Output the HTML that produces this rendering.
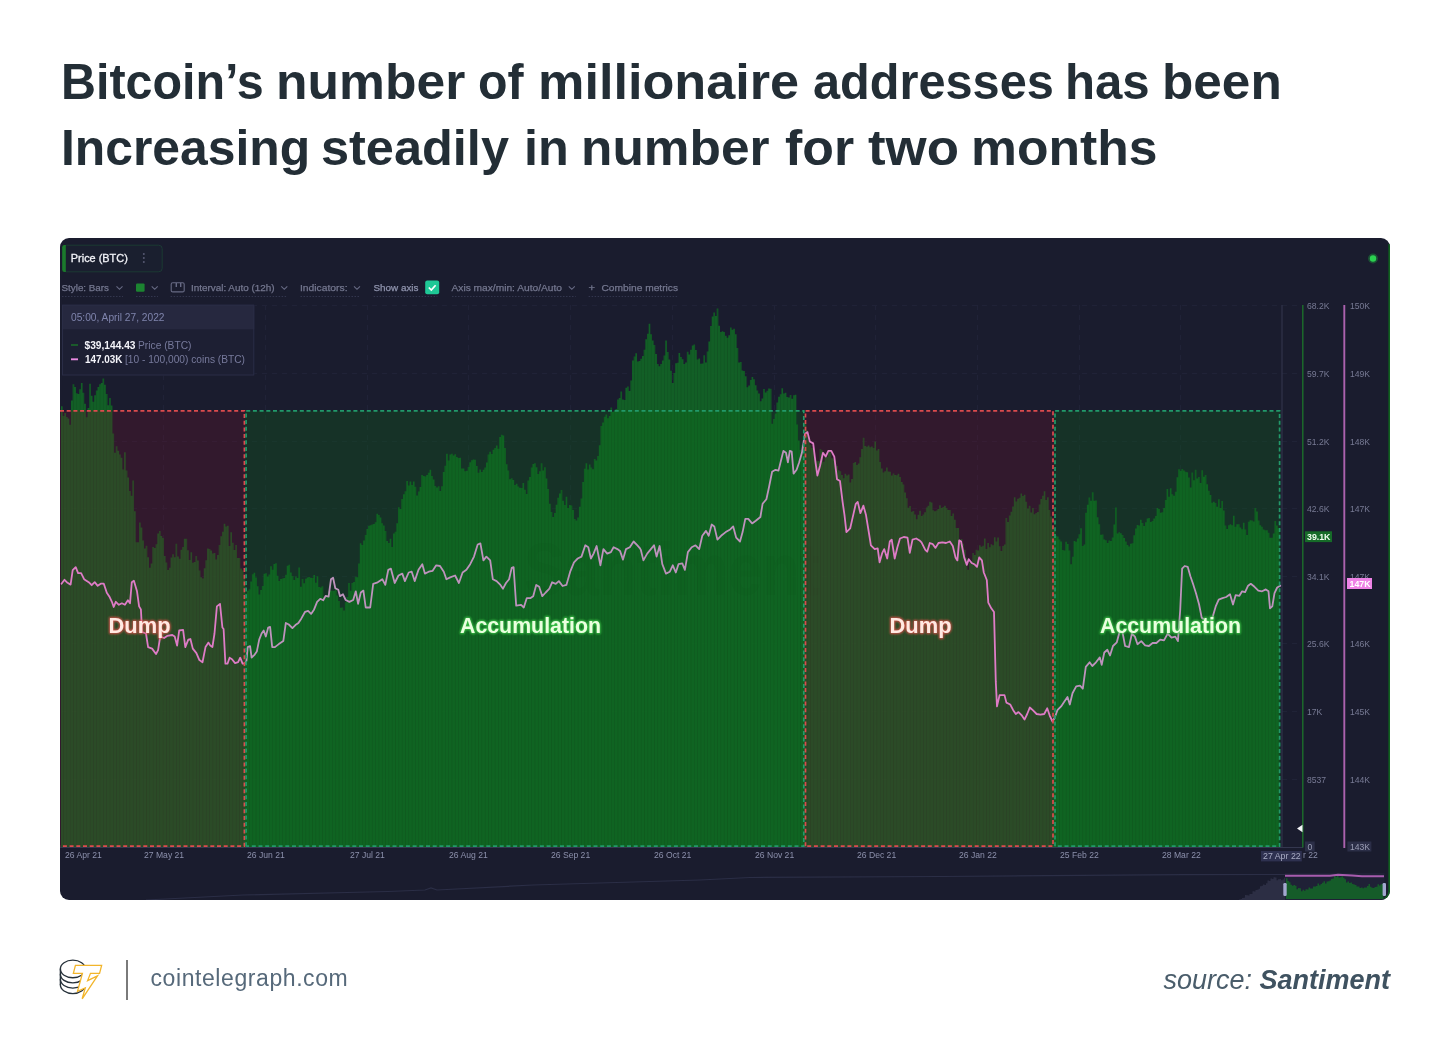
<!DOCTYPE html>
<html lang="en">
<head>
<meta charset="utf-8">
<title>Bitcoin millionaire addresses</title>
<style>
html,body{margin:0;padding:0;background:#fff;}
body{width:1450px;height:1060px;position:relative;overflow:hidden;font-family:"Liberation Sans",sans-serif;}
h1{position:absolute;left:0;top:0;margin:0;width:1450px;height:200px;font-family:"Liberation Sans",sans-serif;font-weight:700;font-size:49.6px;line-height:normal;color:#232e36;white-space:pre;}
.tw{position:absolute;display:block;transform-origin:0 0;white-space:pre;}
#chart{position:absolute;left:60px;top:238px;width:1330px;height:662px;border-radius:9px;background:#1a1c2e;overflow:hidden;}
#chart svg{position:absolute;left:-60px;top:-238px;filter:blur(0.7px);}
.foot-url{position:absolute;left:150.500px;top:964px;font-size:23px;line-height:28px;color:#56697a;letter-spacing:0.58px;white-space:nowrap;}
.sep{position:absolute;left:126px;top:960px;width:2px;height:40px;background:#7a7a7a;}
.src{position:absolute;right:60px;top:962px;font-size:27px;line-height:36px;color:#4a5d6b;font-style:italic;white-space:nowrap;}
.src b{font-weight:700;color:#3f5260;}
#logo{position:absolute;left:50px;top:950px;}
</style>
</head>
<body>
<h1><span class="tw" style="left:60.9px;top:53.4px;transform:scaleX(0.9762)">Bitcoin’s </span><span class="tw" style="left:275.5px;top:53.4px;transform:scaleX(1.0404)">number </span><span class="tw" style="left:478.4px;top:53.4px;transform:scaleX(0.9733)">of </span><span class="tw" style="left:538.2px;top:53.4px;transform:scaleX(1.0527)">millionaire </span><span class="tw" style="left:812.5px;top:53.4px;transform:scaleX(0.9813)">addresses </span><span class="tw" style="left:1065.3px;top:53.4px;transform:scaleX(0.9912)">has </span><span class="tw" style="left:1161.7px;top:53.4px;transform:scaleX(1.0345)">been</span><br><span class="tw" style="left:60.8px;top:118.5px;transform:scaleX(1.0045)">Increasing </span><span class="tw" style="left:321.4px;top:118.5px;transform:scaleX(1.0176)">steadily </span><span class="tw" style="left:523.9px;top:118.5px;transform:scaleX(1.0158)">in </span><span class="tw" style="left:580.7px;top:118.5px;transform:scaleX(1.0365)">number </span><span class="tw" style="left:784.5px;top:118.5px;transform:scaleX(1.0453)">for </span><span class="tw" style="left:867.9px;top:118.5px;transform:scaleX(1.0659)">two </span><span class="tw" style="left:971.0px;top:118.5px;transform:scaleX(1.0408)">months</span></h1>

<div id="chart">
<svg width="1450" height="1060" viewBox="0 0 1450 1060" font-family="Liberation Sans, sans-serif">
  <defs>
    <filter id="gRed" x="-30%" y="-50%" width="160%" height="200%"><feGaussianBlur stdDeviation="0.9"/></filter>
    <filter id="soft"><feGaussianBlur stdDeviation="0.45"/></filter>
    <pattern id="stripes" width="3.32" height="10" patternUnits="userSpaceOnUse"><rect x="0" y="0" width="0.8" height="10" fill="#0c1a14" opacity="0.16"/></pattern>
    <clipPath id="plotclip"><rect x="60" y="300" width="1221" height="547"/></clipPath>
    <clipPath id="barclip"><path d="M61.0 847.0V406.2h1.66V416.1h1.66V412.9h1.66V417.1h1.66V418.5h1.66V424.8h1.66V400.4h1.66V384.3h1.66V387.1h1.66V393.3h1.66V393.9h1.66V389.3h1.66V382.9h1.66V392.8h1.66V403.8h1.66V417.2h1.66V408.0h1.66V383.8h1.66V395.7h1.66V401.8h1.66V395.3h1.66V390.4h1.66V387.0h1.66V384.2h1.66V383.1h1.66V378.6h1.66V384.7h1.66V394.0h1.66V405.3h1.66V398.1h1.66V405.4h1.66V433.4h1.66V452.7h1.66V446.2h1.66V450.8h1.66V454.6h1.66V457.7h1.66V469.6h1.66V452.3h1.66V470.6h1.66V477.4h1.66V491.0h1.66V495.8h1.66V480.6h1.66V511.3h1.66V542.2h1.66V542.3h1.66V522.4h1.66V527.4h1.66V540.5h1.66V548.6h1.66V545.7h1.66V557.3h1.66V567.7h1.66V563.5h1.66V547.1h1.66V548.1h1.66V544.2h1.66V533.4h1.66V531.0h1.66V535.9h1.66V537.9h1.66V555.9h1.66V562.6h1.66V569.9h1.66V567.8h1.66V557.6h1.66V554.2h1.66V557.2h1.66V543.7h1.66V556.6h1.66V558.7h1.66V549.8h1.66V546.9h1.66V538.8h1.66V538.7h1.66V550.3h1.66V560.0h1.66V552.2h1.66V562.7h1.66V562.1h1.66V555.9h1.66V560.4h1.66V570.5h1.66V577.3h1.66V578.5h1.66V568.3h1.66V560.2h1.66V548.4h1.66V549.1h1.66V550.6h1.66V553.6h1.66V552.9h1.66V559.4h1.66V554.9h1.66V544.9h1.66V536.2h1.66V531.8h1.66V523.7h1.66V526.6h1.66V525.7h1.66V546.0h1.66V532.2h1.66V542.7h1.66V550.0h1.66V544.9h1.66V557.9h1.66V558.0h1.66V568.4h1.66V570.6h1.66V578.5h1.66V593.5h1.66V590.8h1.66V589.2h1.66V581.5h1.66V574.2h1.66V572.8h1.66V577.6h1.66V586.2h1.66V594.6h1.66V589.9h1.66V586.0h1.66V573.8h1.66V573.3h1.66V576.5h1.66V574.5h1.66V566.3h1.66V569.7h1.66V564.1h1.66V563.2h1.66V575.7h1.66V580.9h1.66V579.1h1.66V578.4h1.66V578.0h1.66V574.7h1.66V565.8h1.66V564.7h1.66V572.5h1.66V576.0h1.66V579.9h1.66V576.6h1.66V578.1h1.66V567.5h1.66V586.8h1.66V579.0h1.66V583.3h1.66V578.7h1.66V577.4h1.66V577.0h1.66V577.8h1.66V577.9h1.66V575.1h1.66V582.8h1.66V576.2h1.66V587.0h1.66V587.5h1.66V586.2h1.66V596.8h1.66V596.6h1.66V594.7h1.66V591.0h1.66V590.6h1.66V590.8h1.66V590.7h1.66V588.0h1.66V595.4h1.66V600.9h1.66V607.7h1.66V607.6h1.66V610.5h1.66V602.3h1.66V597.1h1.66V582.9h1.66V590.8h1.66V583.1h1.66V582.1h1.66V576.8h1.66V577.3h1.66V563.4h1.66V543.2h1.66V544.9h1.66V540.6h1.66V535.1h1.66V529.1h1.66V525.8h1.66V525.3h1.66V524.5h1.66V524.0h1.66V522.2h1.66V513.7h1.66V515.1h1.66V517.6h1.66V523.2h1.66V525.5h1.66V531.1h1.66V541.1h1.66V542.9h1.66V538.8h1.66V547.0h1.66V533.5h1.66V531.7h1.66V523.2h1.66V507.3h1.66V509.1h1.66V499.0h1.66V494.3h1.66V491.2h1.66V481.0h1.66V485.4h1.66V481.5h1.66V485.1h1.66V481.6h1.66V486.7h1.66V495.4h1.66V491.6h1.66V487.1h1.66V475.0h1.66V476.1h1.66V476.6h1.66V474.9h1.66V472.7h1.66V469.7h1.66V475.9h1.66V479.6h1.66V485.9h1.66V487.5h1.66V486.3h1.66V491.0h1.66V486.2h1.66V472.0h1.66V465.8h1.66V453.8h1.66V460.5h1.66V454.4h1.66V453.7h1.66V455.4h1.66V454.2h1.66V457.1h1.66V458.1h1.66V457.7h1.66V468.6h1.66V468.4h1.66V471.2h1.66V470.7h1.66V466.9h1.66V462.3h1.66V460.2h1.66V459.5h1.66V459.8h1.66V466.0h1.66V472.7h1.66V469.5h1.66V471.9h1.66V469.7h1.66V467.6h1.66V462.6h1.66V454.6h1.66V451.7h1.66V454.1h1.66V449.8h1.66V447.9h1.66V445.5h1.66V448.7h1.66V437.0h1.66V434.7h1.66V435.5h1.66V448.0h1.66V464.3h1.66V470.4h1.66V479.2h1.66V478.2h1.66V480.1h1.66V484.9h1.66V483.7h1.66V486.6h1.66V487.7h1.66V487.9h1.66V483.1h1.66V489.7h1.66V493.9h1.66V480.6h1.66V476.9h1.66V467.6h1.66V463.9h1.66V463.2h1.66V467.3h1.66V473.9h1.66V471.2h1.66V463.3h1.66V470.4h1.66V467.3h1.66V478.6h1.66V489.1h1.66V503.7h1.66V512.1h1.66V517.0h1.66V513.0h1.66V504.7h1.66V497.7h1.66V493.4h1.66V490.1h1.66V500.7h1.66V505.0h1.66V496.8h1.66V507.9h1.66V505.0h1.66V505.5h1.66V509.9h1.66V519.1h1.66V520.5h1.66V517.6h1.66V506.7h1.66V498.4h1.66V482.1h1.66V468.8h1.66V463.2h1.66V469.4h1.66V464.5h1.66V467.6h1.66V469.3h1.66V458.9h1.66V460.5h1.66V456.0h1.66V445.2h1.66V426.1h1.66V422.4h1.66V416.8h1.66V414.5h1.66V418.2h1.66V415.9h1.66V407.4h1.66V412.0h1.66V410.6h1.66V409.0h1.66V399.5h1.66V398.0h1.66V391.5h1.66V399.6h1.66V399.9h1.66V387.8h1.66V386.4h1.66V391.0h1.66V380.4h1.66V360.6h1.66V356.5h1.66V353.3h1.66V361.5h1.66V361.1h1.66V358.7h1.66V356.0h1.66V349.7h1.66V339.2h1.66V333.7h1.66V323.7h1.66V334.3h1.66V340.6h1.66V344.9h1.66V353.9h1.66V364.0h1.66V366.3h1.66V363.9h1.66V360.5h1.66V355.4h1.66V340.5h1.66V352.0h1.66V359.6h1.66V370.7h1.66V382.9h1.66V373.1h1.66V363.3h1.66V362.8h1.66V353.0h1.66V357.1h1.66V359.2h1.66V364.1h1.66V362.4h1.66V351.8h1.66V354.5h1.66V349.7h1.66V345.5h1.66V344.4h1.66V350.1h1.66V359.4h1.66V358.6h1.66V363.8h1.66V363.5h1.66V355.3h1.66V362.4h1.66V351.4h1.66V341.6h1.66V325.9h1.66V316.4h1.66V312.6h1.66V315.9h1.66V308.6h1.66V325.7h1.66V332.1h1.66V331.3h1.66V332.0h1.66V335.8h1.66V337.7h1.66V335.2h1.66V327.5h1.66V329.8h1.66V328.7h1.66V334.3h1.66V348.0h1.66V362.6h1.66V362.0h1.66V370.6h1.66V371.0h1.66V376.3h1.66V387.2h1.66V385.4h1.66V379.9h1.66V377.0h1.66V379.3h1.66V385.3h1.66V390.5h1.66V393.5h1.66V401.3h1.66V398.6h1.66V389.1h1.66V392.4h1.66V390.7h1.66V388.4h1.66V388.8h1.66V423.7h1.66V419.0h1.66V413.4h1.66V402.4h1.66V396.8h1.66V394.3h1.66V388.3h1.66V393.4h1.66V392.8h1.66V397.1h1.66V397.6h1.66V395.0h1.66V398.8h1.66V395.2h1.66V394.7h1.66V424.5h1.66V440.4h1.66V450.0h1.66V444.9h1.66V438.0h1.66V423.4h1.66V430.3h1.66V440.7h1.66V444.9h1.66V448.1h1.66V450.8h1.66V457.7h1.66V461.3h1.66V461.0h1.66V448.9h1.66V450.4h1.66V461.7h1.66V456.3h1.66V457.1h1.66V450.5h1.66V451.6h1.66V458.2h1.66V459.5h1.66V460.6h1.66V466.1h1.66V470.3h1.66V471.3h1.66V475.1h1.66V478.2h1.66V473.8h1.66V475.4h1.66V474.6h1.66V482.5h1.66V479.1h1.66V463.1h1.66V462.1h1.66V464.9h1.66V463.5h1.66V457.2h1.66V449.1h1.66V437.7h1.66V446.0h1.66V446.8h1.66V445.4h1.66V447.3h1.66V446.4h1.66V448.1h1.66V441.6h1.66V450.5h1.66V449.0h1.66V462.0h1.66V468.4h1.66V472.6h1.66V471.2h1.66V467.5h1.66V471.5h1.66V471.7h1.66V475.4h1.66V473.4h1.66V475.1h1.66V475.3h1.66V473.8h1.66V477.1h1.66V481.9h1.66V484.5h1.66V492.6h1.66V498.3h1.66V507.7h1.66V506.1h1.66V511.8h1.66V511.1h1.66V514.4h1.66V519.2h1.66V514.7h1.66V510.7h1.66V516.1h1.66V514.4h1.66V512.3h1.66V507.5h1.66V505.8h1.66V501.8h1.66V502.6h1.66V510.2h1.66V511.2h1.66V510.5h1.66V509.0h1.66V505.2h1.66V508.1h1.66V507.1h1.66V505.8h1.66V507.9h1.66V509.9h1.66V509.9h1.66V516.1h1.66V513.6h1.66V519.7h1.66V528.1h1.66V527.9h1.66V540.7h1.66V539.1h1.66V543.7h1.66V549.8h1.66V557.7h1.66V569.8h1.66V562.6h1.66V560.9h1.66V552.9h1.66V555.1h1.66V549.7h1.66V550.6h1.66V545.3h1.66V546.7h1.66V545.7h1.66V538.4h1.66V549.1h1.66V543.0h1.66V547.3h1.66V544.3h1.66V545.3h1.66V537.2h1.66V541.6h1.66V537.4h1.66V546.2h1.66V551.1h1.66V546.1h1.66V544.5h1.66V518.1h1.66V521.9h1.66V515.4h1.66V511.8h1.66V506.5h1.66V497.3h1.66V501.4h1.66V498.8h1.66V497.7h1.66V493.5h1.66V495.9h1.66V494.7h1.66V501.8h1.66V508.4h1.66V505.7h1.66V512.4h1.66V507.9h1.66V514.3h1.66V512.9h1.66V511.9h1.66V504.5h1.66V499.1h1.66V495.8h1.66V491.2h1.66V499.9h1.66V497.3h1.66V510.0h1.66V516.4h1.66V526.0h1.66V531.1h1.66V535.7h1.66V536.6h1.66V539.6h1.66V541.6h1.66V550.1h1.66V550.5h1.66V541.8h1.66V544.0h1.66V550.5h1.66V564.2h1.66V556.7h1.66V540.9h1.66V541.8h1.66V538.6h1.66V534.2h1.66V528.2h1.66V546.1h1.66V544.4h1.66V512.8h1.66V504.7h1.66V497.6h1.66V500.8h1.66V492.3h1.66V500.8h1.66V500.6h1.66V517.2h1.66V524.2h1.66V534.8h1.66V534.6h1.66V539.4h1.66V540.3h1.66V542.9h1.66V540.6h1.66V540.9h1.66V537.6h1.66V524.5h1.66V507.5h1.66V533.5h1.66V532.3h1.66V533.3h1.66V535.1h1.66V537.9h1.66V541.5h1.66V544.9h1.66V546.4h1.66V543.8h1.66V543.2h1.66V535.3h1.66V528.5h1.66V525.1h1.66V525.6h1.66V519.7h1.66V523.0h1.66V526.1h1.66V522.2h1.66V518.4h1.66V518.1h1.66V521.9h1.66V520.9h1.66V518.4h1.66V516.0h1.66V508.1h1.66V509.1h1.66V512.8h1.66V512.3h1.66V508.0h1.66V500.0h1.66V489.0h1.66V496.8h1.66V488.3h1.66V494.2h1.66V495.8h1.66V491.7h1.66V477.3h1.66V469.2h1.66V470.7h1.66V469.1h1.66V470.6h1.66V471.8h1.66V472.2h1.66V477.6h1.66V487.5h1.66V472.5h1.66V480.2h1.66V469.8h1.66V478.6h1.66V477.1h1.66V482.9h1.66V470.3h1.66V476.7h1.66V475.0h1.66V484.3h1.66V490.7h1.66V495.1h1.66V502.8h1.66V501.7h1.66V502.9h1.66V506.8h1.66V499.2h1.66V508.1h1.66V500.9h1.66V510.4h1.66V525.4h1.66V529.1h1.66V525.2h1.66V524.2h1.66V525.3h1.66V515.7h1.66V526.8h1.66V524.2h1.66V524.3h1.66V527.5h1.66V529.2h1.66V522.7h1.66V529.4h1.66V535.1h1.66V521.8h1.66V520.3h1.66V520.4h1.66V521.6h1.66V508.0h1.66V511.6h1.66V520.5h1.66V525.2h1.66V526.8h1.66V529.5h1.66V530.2h1.66V530.2h1.66V532.7h1.66V537.8h1.66V537.7h1.66V533.4h1.66V521.1h1.66V525.4h1.66V528.3h1.66V847.0Z"/></clipPath>
  </defs>

  <!-- grid -->
  <g stroke="#262940" stroke-width="1" stroke-dasharray="5 5" fill="none" opacity="0.5">
    <path d="M62 305.5H1300M62 373.500H1300M62 441.500H1300M62 508.500H1300M62 576.500H1300M62 643.500H1300M62 711.500H1300M62 779.500H1300"/>
    <path d="M163.500 305V847M265.500 305V847M367.500 305V847M468.500 305V847M570.500 305V847M672.500 305V847M774.500 305V847M875.500 305V847M977.500 305V847M1079.500 305V847M1180.500 305V847"/>
  </g>

  <!-- bars -->
  <g clip-path="url(#plotclip)">
    <path d="M61.0 847.0V406.2h1.66V416.1h1.66V412.9h1.66V417.1h1.66V418.5h1.66V424.8h1.66V400.4h1.66V384.3h1.66V387.1h1.66V393.3h1.66V393.9h1.66V389.3h1.66V382.9h1.66V392.8h1.66V403.8h1.66V417.2h1.66V408.0h1.66V383.8h1.66V395.7h1.66V401.8h1.66V395.3h1.66V390.4h1.66V387.0h1.66V384.2h1.66V383.1h1.66V378.6h1.66V384.7h1.66V394.0h1.66V405.3h1.66V398.1h1.66V405.4h1.66V433.4h1.66V452.7h1.66V446.2h1.66V450.8h1.66V454.6h1.66V457.7h1.66V469.6h1.66V452.3h1.66V470.6h1.66V477.4h1.66V491.0h1.66V495.8h1.66V480.6h1.66V511.3h1.66V542.2h1.66V542.3h1.66V522.4h1.66V527.4h1.66V540.5h1.66V548.6h1.66V545.7h1.66V557.3h1.66V567.7h1.66V563.5h1.66V547.1h1.66V548.1h1.66V544.2h1.66V533.4h1.66V531.0h1.66V535.9h1.66V537.9h1.66V555.9h1.66V562.6h1.66V569.9h1.66V567.8h1.66V557.6h1.66V554.2h1.66V557.2h1.66V543.7h1.66V556.6h1.66V558.7h1.66V549.8h1.66V546.9h1.66V538.8h1.66V538.7h1.66V550.3h1.66V560.0h1.66V552.2h1.66V562.7h1.66V562.1h1.66V555.9h1.66V560.4h1.66V570.5h1.66V577.3h1.66V578.5h1.66V568.3h1.66V560.2h1.66V548.4h1.66V549.1h1.66V550.6h1.66V553.6h1.66V552.9h1.66V559.4h1.66V554.9h1.66V544.9h1.66V536.2h1.66V531.8h1.66V523.7h1.66V526.6h1.66V525.7h1.66V546.0h1.66V532.2h1.66V542.7h1.66V550.0h1.66V544.9h1.66V557.9h1.66V558.0h1.66V568.4h1.66V570.6h1.66V578.5h1.66V593.5h1.66V590.8h1.66V589.2h1.66V581.5h1.66V574.2h1.66V572.8h1.66V577.6h1.66V586.2h1.66V594.6h1.66V589.9h1.66V586.0h1.66V573.8h1.66V573.3h1.66V576.5h1.66V574.5h1.66V566.3h1.66V569.7h1.66V564.1h1.66V563.2h1.66V575.7h1.66V580.9h1.66V579.1h1.66V578.4h1.66V578.0h1.66V574.7h1.66V565.8h1.66V564.7h1.66V572.5h1.66V576.0h1.66V579.9h1.66V576.6h1.66V578.1h1.66V567.5h1.66V586.8h1.66V579.0h1.66V583.3h1.66V578.7h1.66V577.4h1.66V577.0h1.66V577.8h1.66V577.9h1.66V575.1h1.66V582.8h1.66V576.2h1.66V587.0h1.66V587.5h1.66V586.2h1.66V596.8h1.66V596.6h1.66V594.7h1.66V591.0h1.66V590.6h1.66V590.8h1.66V590.7h1.66V588.0h1.66V595.4h1.66V600.9h1.66V607.7h1.66V607.6h1.66V610.5h1.66V602.3h1.66V597.1h1.66V582.9h1.66V590.8h1.66V583.1h1.66V582.1h1.66V576.8h1.66V577.3h1.66V563.4h1.66V543.2h1.66V544.9h1.66V540.6h1.66V535.1h1.66V529.1h1.66V525.8h1.66V525.3h1.66V524.5h1.66V524.0h1.66V522.2h1.66V513.7h1.66V515.1h1.66V517.6h1.66V523.2h1.66V525.5h1.66V531.1h1.66V541.1h1.66V542.9h1.66V538.8h1.66V547.0h1.66V533.5h1.66V531.7h1.66V523.2h1.66V507.3h1.66V509.1h1.66V499.0h1.66V494.3h1.66V491.2h1.66V481.0h1.66V485.4h1.66V481.5h1.66V485.1h1.66V481.6h1.66V486.7h1.66V495.4h1.66V491.6h1.66V487.1h1.66V475.0h1.66V476.1h1.66V476.6h1.66V474.9h1.66V472.7h1.66V469.7h1.66V475.9h1.66V479.6h1.66V485.9h1.66V487.5h1.66V486.3h1.66V491.0h1.66V486.2h1.66V472.0h1.66V465.8h1.66V453.8h1.66V460.5h1.66V454.4h1.66V453.7h1.66V455.4h1.66V454.2h1.66V457.1h1.66V458.1h1.66V457.7h1.66V468.6h1.66V468.4h1.66V471.2h1.66V470.7h1.66V466.9h1.66V462.3h1.66V460.2h1.66V459.5h1.66V459.8h1.66V466.0h1.66V472.7h1.66V469.5h1.66V471.9h1.66V469.7h1.66V467.6h1.66V462.6h1.66V454.6h1.66V451.7h1.66V454.1h1.66V449.8h1.66V447.9h1.66V445.5h1.66V448.7h1.66V437.0h1.66V434.7h1.66V435.5h1.66V448.0h1.66V464.3h1.66V470.4h1.66V479.2h1.66V478.2h1.66V480.1h1.66V484.9h1.66V483.7h1.66V486.6h1.66V487.7h1.66V487.9h1.66V483.1h1.66V489.7h1.66V493.9h1.66V480.6h1.66V476.9h1.66V467.6h1.66V463.9h1.66V463.2h1.66V467.3h1.66V473.9h1.66V471.2h1.66V463.3h1.66V470.4h1.66V467.3h1.66V478.6h1.66V489.1h1.66V503.7h1.66V512.1h1.66V517.0h1.66V513.0h1.66V504.7h1.66V497.7h1.66V493.4h1.66V490.1h1.66V500.7h1.66V505.0h1.66V496.8h1.66V507.9h1.66V505.0h1.66V505.5h1.66V509.9h1.66V519.1h1.66V520.5h1.66V517.6h1.66V506.7h1.66V498.4h1.66V482.1h1.66V468.8h1.66V463.2h1.66V469.4h1.66V464.5h1.66V467.6h1.66V469.3h1.66V458.9h1.66V460.5h1.66V456.0h1.66V445.2h1.66V426.1h1.66V422.4h1.66V416.8h1.66V414.5h1.66V418.2h1.66V415.9h1.66V407.4h1.66V412.0h1.66V410.6h1.66V409.0h1.66V399.5h1.66V398.0h1.66V391.5h1.66V399.6h1.66V399.9h1.66V387.8h1.66V386.4h1.66V391.0h1.66V380.4h1.66V360.6h1.66V356.5h1.66V353.3h1.66V361.5h1.66V361.1h1.66V358.7h1.66V356.0h1.66V349.7h1.66V339.2h1.66V333.7h1.66V323.7h1.66V334.3h1.66V340.6h1.66V344.9h1.66V353.9h1.66V364.0h1.66V366.3h1.66V363.9h1.66V360.5h1.66V355.4h1.66V340.5h1.66V352.0h1.66V359.6h1.66V370.7h1.66V382.9h1.66V373.1h1.66V363.3h1.66V362.8h1.66V353.0h1.66V357.1h1.66V359.2h1.66V364.1h1.66V362.4h1.66V351.8h1.66V354.5h1.66V349.7h1.66V345.5h1.66V344.4h1.66V350.1h1.66V359.4h1.66V358.6h1.66V363.8h1.66V363.5h1.66V355.3h1.66V362.4h1.66V351.4h1.66V341.6h1.66V325.9h1.66V316.4h1.66V312.6h1.66V315.9h1.66V308.6h1.66V325.7h1.66V332.1h1.66V331.3h1.66V332.0h1.66V335.8h1.66V337.7h1.66V335.2h1.66V327.5h1.66V329.8h1.66V328.7h1.66V334.3h1.66V348.0h1.66V362.6h1.66V362.0h1.66V370.6h1.66V371.0h1.66V376.3h1.66V387.2h1.66V385.4h1.66V379.9h1.66V377.0h1.66V379.3h1.66V385.3h1.66V390.5h1.66V393.5h1.66V401.3h1.66V398.6h1.66V389.1h1.66V392.4h1.66V390.7h1.66V388.4h1.66V388.8h1.66V423.7h1.66V419.0h1.66V413.4h1.66V402.4h1.66V396.8h1.66V394.3h1.66V388.3h1.66V393.4h1.66V392.8h1.66V397.1h1.66V397.6h1.66V395.0h1.66V398.8h1.66V395.2h1.66V394.7h1.66V424.5h1.66V440.4h1.66V450.0h1.66V444.9h1.66V438.0h1.66V423.4h1.66V430.3h1.66V440.7h1.66V444.9h1.66V448.1h1.66V450.8h1.66V457.7h1.66V461.3h1.66V461.0h1.66V448.9h1.66V450.4h1.66V461.7h1.66V456.3h1.66V457.1h1.66V450.5h1.66V451.6h1.66V458.2h1.66V459.5h1.66V460.6h1.66V466.1h1.66V470.3h1.66V471.3h1.66V475.1h1.66V478.2h1.66V473.8h1.66V475.4h1.66V474.6h1.66V482.5h1.66V479.1h1.66V463.1h1.66V462.1h1.66V464.9h1.66V463.5h1.66V457.2h1.66V449.1h1.66V437.7h1.66V446.0h1.66V446.8h1.66V445.4h1.66V447.3h1.66V446.4h1.66V448.1h1.66V441.6h1.66V450.5h1.66V449.0h1.66V462.0h1.66V468.4h1.66V472.6h1.66V471.2h1.66V467.5h1.66V471.5h1.66V471.7h1.66V475.4h1.66V473.4h1.66V475.1h1.66V475.3h1.66V473.8h1.66V477.1h1.66V481.9h1.66V484.5h1.66V492.6h1.66V498.3h1.66V507.7h1.66V506.1h1.66V511.8h1.66V511.1h1.66V514.4h1.66V519.2h1.66V514.7h1.66V510.7h1.66V516.1h1.66V514.4h1.66V512.3h1.66V507.5h1.66V505.8h1.66V501.8h1.66V502.6h1.66V510.2h1.66V511.2h1.66V510.5h1.66V509.0h1.66V505.2h1.66V508.1h1.66V507.1h1.66V505.8h1.66V507.9h1.66V509.9h1.66V509.9h1.66V516.1h1.66V513.6h1.66V519.7h1.66V528.1h1.66V527.9h1.66V540.7h1.66V539.1h1.66V543.7h1.66V549.8h1.66V557.7h1.66V569.8h1.66V562.6h1.66V560.9h1.66V552.9h1.66V555.1h1.66V549.7h1.66V550.6h1.66V545.3h1.66V546.7h1.66V545.7h1.66V538.4h1.66V549.1h1.66V543.0h1.66V547.3h1.66V544.3h1.66V545.3h1.66V537.2h1.66V541.6h1.66V537.4h1.66V546.2h1.66V551.1h1.66V546.1h1.66V544.5h1.66V518.1h1.66V521.9h1.66V515.4h1.66V511.8h1.66V506.5h1.66V497.3h1.66V501.4h1.66V498.8h1.66V497.7h1.66V493.5h1.66V495.9h1.66V494.7h1.66V501.8h1.66V508.4h1.66V505.7h1.66V512.4h1.66V507.9h1.66V514.3h1.66V512.9h1.66V511.9h1.66V504.5h1.66V499.1h1.66V495.8h1.66V491.2h1.66V499.9h1.66V497.3h1.66V510.0h1.66V516.4h1.66V526.0h1.66V531.1h1.66V535.7h1.66V536.6h1.66V539.6h1.66V541.6h1.66V550.1h1.66V550.5h1.66V541.8h1.66V544.0h1.66V550.5h1.66V564.2h1.66V556.7h1.66V540.9h1.66V541.8h1.66V538.6h1.66V534.2h1.66V528.2h1.66V546.1h1.66V544.4h1.66V512.8h1.66V504.7h1.66V497.6h1.66V500.8h1.66V492.3h1.66V500.8h1.66V500.6h1.66V517.2h1.66V524.2h1.66V534.8h1.66V534.6h1.66V539.4h1.66V540.3h1.66V542.9h1.66V540.6h1.66V540.9h1.66V537.6h1.66V524.5h1.66V507.5h1.66V533.5h1.66V532.3h1.66V533.3h1.66V535.1h1.66V537.9h1.66V541.5h1.66V544.9h1.66V546.4h1.66V543.8h1.66V543.2h1.66V535.3h1.66V528.5h1.66V525.1h1.66V525.6h1.66V519.7h1.66V523.0h1.66V526.1h1.66V522.2h1.66V518.4h1.66V518.1h1.66V521.9h1.66V520.9h1.66V518.4h1.66V516.0h1.66V508.1h1.66V509.1h1.66V512.8h1.66V512.3h1.66V508.0h1.66V500.0h1.66V489.0h1.66V496.8h1.66V488.3h1.66V494.2h1.66V495.8h1.66V491.7h1.66V477.3h1.66V469.2h1.66V470.7h1.66V469.1h1.66V470.6h1.66V471.8h1.66V472.2h1.66V477.6h1.66V487.5h1.66V472.5h1.66V480.2h1.66V469.8h1.66V478.6h1.66V477.1h1.66V482.9h1.66V470.3h1.66V476.7h1.66V475.0h1.66V484.3h1.66V490.7h1.66V495.1h1.66V502.8h1.66V501.7h1.66V502.9h1.66V506.8h1.66V499.2h1.66V508.1h1.66V500.9h1.66V510.4h1.66V525.4h1.66V529.1h1.66V525.2h1.66V524.2h1.66V525.3h1.66V515.7h1.66V526.8h1.66V524.2h1.66V524.3h1.66V527.5h1.66V529.2h1.66V522.7h1.66V529.4h1.66V535.1h1.66V521.8h1.66V520.3h1.66V520.4h1.66V521.6h1.66V508.0h1.66V511.6h1.66V520.5h1.66V525.2h1.66V526.8h1.66V529.5h1.66V530.2h1.66V530.2h1.66V532.7h1.66V537.8h1.66V537.7h1.66V533.4h1.66V521.1h1.66V525.4h1.66V528.3h1.66V847.0Z" fill="#107024" fill-opacity="0.8"/>
    <rect x="62" y="300" width="1220" height="547" fill="url(#stripes)" clip-path="url(#barclip)"/>
  </g>

  <!-- purple line -->
  <path d="M61.5 583.7 L64.5 579.8 L67.5 582.8 L70.6 584.6 L72.7 570.1 L75.7 567.1 L78.1 573.2 L81.1 573.2 L84.1 579.2 L88.7 582.2 L91.7 585.2 L94.7 582.2 L97.7 585.8 L100.7 583.7 L103.8 583.7 L106.8 592.8 L109.8 597.3 L111.9 601.8 L113.7 607.0 L115.8 601.8 L118.9 604.8 L121.9 603.3 L124.9 604.8 L127.9 600.3 L130.0 603.3 L131.8 582.2 L133.9 580.7 L137.0 591.3 L139.1 606.4 L140.9 609.4 L142.1 632.0 L146.0 633.5 L148.1 647.1 L152.1 648.6 L156.0 654.0 L158.1 650.1 L160.2 636.5 L164.1 638.0 L167.1 635.9 L172.3 635.0 L174.7 636.5 L177.1 645.6 L179.2 630.5 L183.1 629.9 L185.3 647.1 L188.3 639.6 L190.4 639.0 L192.8 648.6 L196.4 653.1 L199.4 660.1 L202.5 662.2 L205.5 647.1 L208.5 642.6 L210.3 645.6 L212.4 647.1 L214.5 633.5 L216.9 606.4 L220.0 603.9 L222.4 627.5 L223.6 629.0 L225.4 663.7 L227.5 663.7 L229.6 657.7 L232.0 659.2 L235.1 663.1 L238.1 662.2 L240.2 657.7 L242.6 663.7 L244.7 663.7 L246.5 660.7 L247.7 647.1 L250.1 646.2 L251.6 657.7 L254.7 654.6 L256.8 651.6 L259.2 639.6 L261.6 633.5 L263.7 630.5 L265.8 636.5 L268.2 627.5 L270.1 626.9 L272.2 647.1 L274.9 647.1 L278.8 644.1 L283.3 641.1 L285.8 623.0 L288.8 624.5 L292.4 628.1 L295.4 625.1 L298.4 623.0 L301.4 618.4 L305.1 611.8 L308.1 610.9 L311.1 613.9 L314.1 609.4 L317.1 601.8 L320.2 598.8 L323.2 600.3 L325.6 595.8 L328.6 596.7 L331.0 579.2 L333.1 577.7 L335.3 588.2 L338.3 589.8 L340.0 596.2 L343.0 594.3 L345.7 600.0 L349.4 601.9 L353.2 600.0 L355.8 591.3 L358.1 603.8 L360.8 592.5 L363.4 590.6 L365.7 607.5 L370.2 607.5 L373.2 583.8 L377.7 582.3 L382.3 579.2 L385.3 584.9 L388.3 569.8 L390.9 568.7 L394.7 583.0 L398.5 575.5 L402.3 573.6 L404.9 581.1 L408.7 572.5 L411.7 571.7 L414.7 581.1 L418.5 569.8 L422.3 564.2 L424.9 573.6 L428.7 571.7 L432.5 570.9 L436.2 565.3 L440.0 566.0 L443.8 571.7 L446.4 579.2 L450.2 577.4 L455.1 575.5 L458.9 583.0 L462.6 572.5 L466.4 569.8 L470.2 564.2 L474.0 556.6 L477.7 544.5 L480.4 543.4 L483.4 560.4 L486.4 556.6 L490.2 560.4 L492.8 579.2 L496.6 581.1 L500.4 584.9 L503.0 588.7 L506.0 583.0 L509.1 579.2 L511.7 567.9 L513.6 567.2 L516.2 605.7 L521.1 604.9 L523.8 607.5 L526.8 598.1 L530.6 598.1 L533.2 596.2 L536.2 584.9 L539.2 586.8 L542.3 596.2 L545.7 592.5 L549.4 588.7 L552.1 582.3 L555.8 583.8 L558.9 581.1 L562.6 586.0 L566.4 584.9 L570.2 571.7 L574.0 562.3 L577.7 558.5 L581.5 556.6 L585.3 545.3 L588.3 547.2 L590.9 558.5 L593.6 553.6 L596.6 546.0 L600.4 565.3 L603.4 549.1 L607.2 553.6 L610.9 552.1 L613.6 547.2 L617.4 549.1 L620.0 550.9 L623.0 559.6 L626.0 549.1 L629.8 547.2 L633.6 541.5 L637.4 545.3 L640.0 548.3 L640.8 549.8 L643.4 560.4 L647.2 553.6 L650.9 549.1 L654.0 545.3 L656.6 556.6 L659.6 546.0 L662.3 564.2 L666.0 573.6 L669.8 571.7 L672.8 565.3 L675.8 572.5 L678.5 564.2 L682.3 563.4 L684.9 569.8 L687.9 552.1 L691.7 547.2 L695.5 545.3 L699.2 549.1 L702.3 535.8 L706.0 530.9 L708.7 535.8 L711.7 524.5 L714.3 526.4 L717.4 539.6 L721.1 535.8 L725.7 532.1 L730.2 529.4 L733.2 526.4 L736.2 537.7 L740.0 541.5 L742.6 532.1 L745.3 518.9 L748.3 518.9 L752.1 523.4 L755.8 520.8 L760.4 517.0 L762.6 503.8 L766.4 499.2 L769.1 486.8 L772.1 471.7 L775.5 469.8 L778.5 470.6 L781.5 458.5 L783.4 450.9 L786.0 452.8 L787.9 462.3 L789.8 450.9 L791.7 451.7 L793.6 473.6 L796.6 469.8 L799.2 462.3 L801.9 452.8 L804.9 434.0 L807.5 432.1 L809.8 441.5 L813.2 443.4 L815.5 462.3 L817.4 475.5 L820.0 466.0 L823.0 452.8 L825.7 456.6 L828.3 450.9 L831.3 450.9 L834.3 456.6 L837.0 479.2 L840.0 481.1 L842.6 501.9 L844.5 515.1 L846.4 532.1 L850.2 528.3 L853.2 515.1 L855.8 503.8 L857.7 501.9 L860.4 513.2 L863.4 505.7 L866.0 515.1 L869.1 534.0 L870.9 545.3 L874.7 549.1 L877.7 548.3 L879.6 562.3 L882.3 552.8 L884.2 549.1 L887.2 558.5 L889.8 541.5 L891.7 539.6 L894.7 558.5 L897.4 547.2 L900.0 538.5 L903.8 537.0 L907.5 537.7 L909.8 552.8 L912.5 539.6 L916.2 538.5 L920.0 540.8 L921.5 542.3 L925.3 549.8 L927.2 551.7 L929.8 543.0 L932.8 544.2 L935.5 547.9 L938.5 543.0 L942.3 542.3 L946.0 543.0 L949.8 541.5 L952.8 546.0 L955.5 557.4 L957.4 560.4 L959.2 540.4 L961.1 541.5 L964.2 557.4 L966.8 564.9 L968.7 559.2 L971.7 563.0 L974.3 564.2 L977.0 566.8 L979.2 557.4 L981.9 560.4 L983.8 572.5 L986.8 580.0 L988.3 602.6 L991.3 608.3 L994.0 612.1 L995.8 681.9 L997.0 706.4 L999.6 695.1 L1004.5 695.1 L1006.4 702.6 L1010.2 704.5 L1013.2 710.2 L1015.8 714.0 L1018.5 712.1 L1021.5 715.1 L1024.5 719.6 L1027.2 714.0 L1029.8 707.5 L1032.8 710.2 L1036.6 714.0 L1040.4 714.7 L1044.2 714.0 L1047.2 708.3 L1049.8 715.8 L1052.5 721.5 L1054.7 717.7 L1057.4 710.2 L1061.1 706.4 L1064.9 700.8 L1067.5 697.0 L1069.8 704.5 L1072.5 693.2 L1076.2 686.4 L1080.0 685.7 L1082.8 688.7 L1085.8 666.8 L1089.6 662.3 L1092.3 666.0 L1096.0 662.3 L1099.8 657.4 L1101.7 664.9 L1104.3 652.5 L1107.4 649.8 L1110.0 655.5 L1113.0 646.0 L1116.8 642.3 L1119.8 630.9 L1122.5 632.1 L1125.1 646.0 L1128.9 647.2 L1131.9 633.6 L1134.9 636.6 L1137.5 644.2 L1141.3 641.1 L1145.1 645.3 L1148.9 646.0 L1152.6 643.0 L1156.4 643.0 L1160.2 639.6 L1164.0 640.4 L1167.7 633.6 L1171.5 637.7 L1175.3 636.6 L1177.9 641.1 L1180.2 610.2 L1182.1 568.7 L1184.7 566.0 L1187.7 566.8 L1190.4 576.2 L1193.0 583.8 L1196.0 593.2 L1199.1 604.5 L1201.7 617.7 L1204.3 619.6 L1207.4 621.5 L1210.4 622.3 L1213.0 615.8 L1215.7 606.4 L1218.7 599.6 L1222.5 598.1 L1226.2 597.0 L1230.0 594.3 L1233.0 604.5 L1235.7 595.1 L1239.4 595.8 L1242.1 591.3 L1245.1 592.1 L1248.1 585.7 L1250.8 583.8 L1254.5 586.8 L1258.3 590.6 L1262.1 591.3 L1265.8 589.4 L1268.5 591.3 L1270.0 608.3 L1272.3 606.4 L1274.5 593.2 L1277.2 587.5 L1280.2 585.7" fill="none" stroke="#ffa0fa" stroke-width="1.800" stroke-linejoin="round" stroke-linecap="round" opacity="1"/>

  <text x="524" y="595" font-size="74" font-weight="700" fill="#04140a" fill-opacity="0.033" textLength="296" lengthAdjust="spacingAndGlyphs">Santiment</text>
  <!-- zones -->
  <rect x="60" y="410.800" width="185.200" height="436" fill="#7a0f2a" fill-opacity="0.25"/>
  <rect x="245.200" y="410.800" width="559.200" height="436" fill="#0b7217" fill-opacity="0.265"/>
  <rect x="804.400" y="410.800" width="249.800" height="436" fill="#7a0f2a" fill-opacity="0.25"/>
  <rect x="1054.200" y="410.800" width="226.300" height="436" fill="#0b7217" fill-opacity="0.265"/>
  <g fill="none" stroke-width="1.700" stroke-dasharray="4 2.700">
    <path d="M60 410.800H244.400V846.200H60" stroke="#dc4b4e"/>
    <path d="M246.100 846.200V410.800H803.800V846.200H246.100" stroke="#22996a"/>
    <path d="M805.500 846.200V410.800H1053V846.200H805.500" stroke="#dc4b4e"/>
    <path d="M1055 846.200V410.800H1279.600V846.200H1055" stroke="#22996a"/>
  </g>

  <!-- zone labels -->
  <g font-weight="700" font-size="22.600" text-anchor="middle">
    <g filter="url(#gRed)" stroke-width="1.800" stroke-linejoin="round" opacity="0.9">
      <text x="139.500" y="632.500" fill="#e4524c" stroke="#e4524c" textLength="62" lengthAdjust="spacingAndGlyphs">Dump</text>
      <text x="920.500" y="632.500" fill="#e4524c" stroke="#e4524c" textLength="62" lengthAdjust="spacingAndGlyphs">Dump</text>
      <text x="530.500" y="632.500" fill="#3fd04c" stroke="#3fd04c" textLength="141" lengthAdjust="spacingAndGlyphs">Accumulation</text>
      <text x="1170.500" y="632.500" fill="#3fd04c" stroke="#3fd04c" textLength="141" lengthAdjust="spacingAndGlyphs">Accumulation</text>
    </g>
    <text x="139.500" y="632.500" fill="#ffe9e2" textLength="62" lengthAdjust="spacingAndGlyphs">Dump</text>
    <text x="920.500" y="632.500" fill="#ffe9e2" textLength="62" lengthAdjust="spacingAndGlyphs">Dump</text>
    <text x="530.500" y="632.500" fill="#eaffdf" textLength="141" lengthAdjust="spacingAndGlyphs">Accumulation</text>
    <text x="1170.500" y="632.500" fill="#eaffdf" textLength="141" lengthAdjust="spacingAndGlyphs">Accumulation</text>
  </g>

  <!-- plot borders / axes -->
  <path d="M1282 305V847.500M60 847.500H1303" stroke="#34374f" stroke-width="1" fill="none"/>
  <path d="M1302.800 305V847.500" stroke="#1c6a2a" stroke-width="1.500" fill="none"/>
  <path d="M1344.300 305V848" stroke="#ab62ae" stroke-width="1.900" fill="none"/>
  <path d="M1389.200 244V891A8.200 8.200 0 0 1 1381 899.200H1290" stroke="#10601e" stroke-width="1.600" fill="none"/>

  <!-- top tab -->
  <rect x="62.700" y="245.200" width="99.500" height="26.600" rx="3.500" fill="#1a1f2f" stroke="#1c3a34" stroke-width="1"/>
  <path d="M65.800 244.900V272.100H64.500A2.300 2.300 0 0 1 62.200 269.800V247.200A2.300 2.300 0 0 1 64.500 244.900Z" fill="#1b7a2c"/>
  <text x="70.800" y="262" font-size="11" fill="#f2f3f8" stroke="#f2f3f8" stroke-width="0.300" textLength="57" lengthAdjust="spacingAndGlyphs">Price (BTC)</text>
  <g fill="#565972"><circle cx="143.800" cy="254" r="1"/><circle cx="143.800" cy="258" r="1"/><circle cx="143.800" cy="262" r="1"/></g>
  <circle cx="1373" cy="258.500" r="5" fill="#1d8f3c" opacity="0.45"/>
  <circle cx="1373" cy="258.500" r="3.200" fill="#2bd050"/>

  <!-- toolbar -->
  <g font-size="9.500" fill="#74778f" stroke="#74778f" stroke-width="0.250">
    <text x="61.500" y="290.600" textLength="47.500" lengthAdjust="spacingAndGlyphs">Style: Bars</text>
    <text x="191" y="290.600" textLength="83.500" lengthAdjust="spacingAndGlyphs">Interval: Auto (12h)</text>
    <text x="300" y="290.600" textLength="47.500" lengthAdjust="spacingAndGlyphs">Indicators:</text>
    <text x="373.500" y="290.600" textLength="45" lengthAdjust="spacingAndGlyphs" fill="#9094ae" stroke="#9094ae">Show axis</text>
    <text x="451.500" y="290.600" textLength="110.500" lengthAdjust="spacingAndGlyphs">Axis max/min: Auto/Auto</text>
    <text x="588.500" y="290.600" textLength="6.500" lengthAdjust="spacingAndGlyphs">+</text>
    <text x="601.500" y="290.600" textLength="76.500" lengthAdjust="spacingAndGlyphs">Combine metrics</text>
  </g>
  <g fill="none" stroke="#676a84" stroke-width="1.100">
    <path d="M116.500 286.300l3 3l3 -3M151.700 286.300l3 3l3 -3M281.300 286.300l3 3l3 -3M354 286.300l3 3l3 -3M568.800 286.300l3 3l3 -3"/>
    <rect x="171.200" y="282.700" width="13" height="9.200" rx="1.500"/>
    <path d="M176.300 283v4M180.700 283v4" stroke-width="1.400"/>
  </g>
  <rect x="136" y="283.400" width="8.600" height="8.400" rx="1.200" fill="#1c8431"/>
  <rect x="425.200" y="280.500" width="14" height="13.700" rx="2" fill="#1fc896"/>
  <path d="M428.800 287.500l2.500 2.500l4.300 -4.800" fill="none" stroke="#fff" stroke-width="1.700"/>
  <g stroke="#33364e" stroke-width="1" stroke-dasharray="1.500 1.500" fill="none">
    <path d="M62 296.500H123M136 296.500H158M170.600 296.500H287M300.500 296.500H360M373.600 296.500H437.400M452 296.500H575.700M588.600 296.500H677.700"/>
  </g>

  <!-- tooltip -->
  <rect x="62" y="304.700" width="192.300" height="70.800" fill="#1d1f33"/>
  <rect x="62" y="304.700" width="192.300" height="24.600" fill="#26283f"/>
  <rect x="62.500" y="305.200" width="191.300" height="69.800" fill="none" stroke="#2a2d46" stroke-width="1"/>
  <text x="71" y="321" font-size="10.300" fill="#7f84ac" textLength="93.500" lengthAdjust="spacingAndGlyphs">05:00, April 27, 2022</text>
  <path d="M71 345h7" stroke="#1b6a2a" stroke-width="1.600"/>
  <path d="M71 359.300h7" stroke="#e88ae0" stroke-width="1.900"/>
  <text x="84.500" y="348.500" font-size="10.600" font-weight="700" fill="#f4f4fa" textLength="51" lengthAdjust="spacingAndGlyphs">$39,144.43</text>
  <text x="138" y="348.500" font-size="10.600" fill="#777a9c" textLength="53.500" lengthAdjust="spacingAndGlyphs">Price (BTC)</text>
  <text x="85" y="363" font-size="10.600" font-weight="700" fill="#f4f4fa" textLength="37.500" lengthAdjust="spacingAndGlyphs">147.03K</text>
  <text x="125" y="363" font-size="10.600" fill="#777a9c" textLength="120" lengthAdjust="spacingAndGlyphs">[10 - 100,000) coins (BTC)</text>

  <!-- y axis labels -->
  <g font-size="8.600" fill="#777a94">
    <text x="1307" y="308.500">68.2K</text>
    <text x="1307" y="376.500">59.7K</text>
    <text x="1307" y="444.500">51.2K</text>
    <text x="1307" y="511.500">42.6K</text>
    <text x="1307" y="579.500">34.1K</text>
    <text x="1307" y="646.500">25.6K</text>
    <text x="1307" y="714.500">17K</text>
    <text x="1307" y="782.500">8537</text>
    <text x="1350" y="308.500">150K</text>
    <text x="1350" y="376.500">149K</text>
    <text x="1350" y="444.500">148K</text>
    <text x="1350" y="511.500">147K</text>
    <text x="1350" y="579.500">147K</text>
    <text x="1350" y="646.500">146K</text>
    <text x="1350" y="714.500">145K</text>
    <text x="1350" y="782.500">144K</text>
  </g>
  <rect x="1305" y="841.500" width="9.700" height="10" fill="#2b2e47"/>
  <text x="1307.500" y="849.800" font-size="8.600" fill="#9a9db4">0</text>
  <rect x="1347.400" y="841.500" width="24" height="10" fill="#2b2e47"/>
  <text x="1350" y="849.800" font-size="8.600" fill="#9a9db4">143K</text>
  <rect x="1305" y="531.300" width="27" height="10.800" fill="#166b28"/>
  <text x="1307" y="540" font-size="8.800" font-weight="700" fill="#f0fff0">39.1K</text>
  <rect x="1347" y="578" width="25" height="11" fill="#ee82e6"/>
  <text x="1349.500" y="587" font-size="8.800" font-weight="700" fill="#fff">147K</text>
  <path d="M1297 828.500l5.500 -3.800v7.600z" fill="#f4f4f8"/>

  <!-- x axis labels -->
  <g font-size="8.600" fill="#8c90ac">
    <text x="65" y="858.300">26 Apr 21</text>
    <text x="144" y="858.300">27 May 21</text>
    <text x="247" y="858.300">26 Jun 21</text>
    <text x="350" y="858.300">27 Jul 21</text>
    <text x="449" y="858.300">26 Aug 21</text>
    <text x="551" y="858.300">26 Sep 21</text>
    <text x="654" y="858.300">26 Oct 21</text>
    <text x="755" y="858.300">26 Nov 21</text>
    <text x="857" y="858.300">26 Dec 21</text>
    <text x="959" y="858.300">26 Jan 22</text>
    <text x="1060" y="858.300">25 Feb 22</text>
    <text x="1162" y="858.300">28 Mar 22</text>
    <text x="1303" y="858.300">r 22</text>
  </g>
  <rect x="1261" y="851" width="40.800" height="10.400" fill="#2e3150"/>
  <text x="1263" y="859" font-size="8.800" fill="#a9acc4">27 Apr 22</text>

  <!-- navigator -->
  <path d="M146 900L243 895L388 891.500L425 890L431 888L437 890L533 885L700 880L750 877.500L941 876.500L1183 874.600L1285 874.500" fill="none" stroke="#2b2e46" stroke-width="1.200"/>
  <path d="M1236 900V900.3h1.5V899.9h1.5V899.4h1.5V899.1h1.5V897.9h1.5V897.7h1.5V894.9h1.5V895.2h1.5V895.6h1.5V894.1h1.5V894.0h1.5V891.3h1.5V891.4h1.5V890.0h1.5V889.7h1.5V888.7h1.5V886.3h1.5V885.7h1.5V884.6h1.5V884.9h1.5V883.3h1.5V880.6h1.5V881.1h1.5V878.6h1.5V878.9h1.5V877.3h1.5V877.6h1.5V880.3h1.5V879.3h1.5V878.9h1.5V880.3h1.5V879.6h1.5V877.8h1.5V900Z" fill="#2c2e44"/>
  <rect x="1285" y="873" width="99.500" height="27" fill="#1f2136"/>
  <path d="M1286 899V878.2h1.5V881.0h1.5V882.3h1.5V884.7h1.5V885.7h1.5V884.9h1.5V885.8h1.5V889.2h1.5V887.9h1.5V888.3h1.5V891.3h1.5V889.8h1.5V890.7h1.5V889.3h1.5V889.6h1.5V887.6h1.5V888.4h1.5V888.4h1.5V886.6h1.5V886.6h1.5V885.9h1.5V883.4h1.5V885.2h1.5V884.1h1.5V882.7h1.5V881.3h1.5V883.5h1.5V881.5h1.5V881.2h1.5V880.6h1.5V878.9h1.5V878.5h1.5V875.7h1.5V877.0h1.5V875.8h1.5V877.4h1.5V877.2h1.5V876.2h1.5V877.8h1.5V879.3h1.5V882.5h1.5V881.5h1.5V882.9h1.5V882.6h1.5V884.0h1.5V884.4h1.5V885.0h1.5V886.4h1.5V886.6h1.5V887.9h1.5V887.4h1.5V888.2h1.5V887.5h1.5V887.4h1.5V885.9h1.5V884.1h1.5V886.8h1.5V887.7h1.5V888.0h1.5V887.0h1.5V886.7h1.5V884.3h1.5V885.6h1.5V884.3h1.5V883.7h1.5V899Z" fill="#155c29"/>
  <path d="M1285 875.800H1330L1338 874.800L1352 875.500L1362 876.300H1384" stroke="#a85cae" stroke-width="1.900" fill="none"/>
  <rect x="1283.300" y="883" width="3.400" height="13" rx="1.200" fill="#a3a7cf"/>
  <rect x="1382.600" y="883" width="3.400" height="13" rx="1.200" fill="#a3a7cf"/>
</svg>
</div>

<svg id="logo" width="60" height="55" viewBox="50 950 60 55" fill="none" stroke-linejoin="miter" stroke-linecap="round">
  <g stroke="#26313a" stroke-width="1.350">
    <ellipse cx="72.830" cy="968.940" rx="12.450" ry="8.820"/>
    <path d="M60.380 968.940V984.800"/>
    <path d="M60.380 974.130A12.450 8.820 0 0 0 85.280 974.130"/>
    <path d="M60.380 979.320A12.450 8.820 0 0 0 85.280 979.320"/>
    <path d="M60.380 984.770A12.450 8.820 0 0 0 85.280 984.770"/>
  </g>
  <path d="M75.430 965.310H101.630L99.560 973.350H90.480L87.620 980.620L97.480 975.950L82.170 998.780L85.290 987.880L77.500 991.260L82.430 973.350H73.350Z" fill="#fff" stroke="#f2b52b" stroke-width="1.300"/>
</svg>
<div class="sep"></div>
<div class="foot-url">cointelegraph.com</div>
<div class="src">source: <b>Santiment</b></div>
</body>
</html>
